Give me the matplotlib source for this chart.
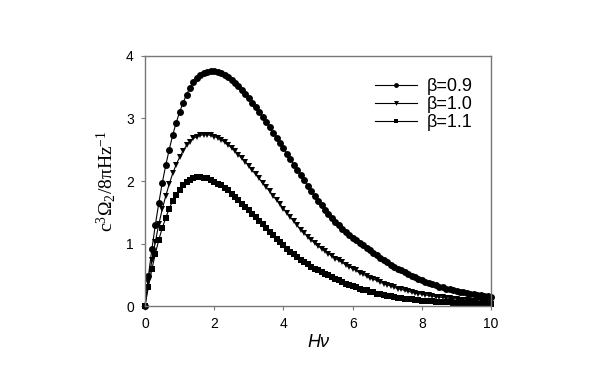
import numpy as np
import matplotlib
matplotlib.use("Agg")
import matplotlib.pyplot as plt

plt.rcParams['font.family'] = ['Liberation Sans', 'DejaVu Sans']
plt.rcParams['mathtext.fontset'] = 'custom'
plt.rcParams['mathtext.rm'] = 'Liberation Serif'
plt.rcParams['mathtext.it'] = 'Liberation Serif:italic'

# Hν grid, step 0.1 (one marker per point)
hv = np.linspace(0, 10, 101)

# values
beta09 = [0.00, 0.48, 0.91, 1.30, 1.65, 1.97, 2.25, 2.50, 2.73, 2.93,
          3.10, 3.25, 3.38, 3.49, 3.58, 3.65, 3.70, 3.73, 3.75, 3.76,
          3.76, 3.75, 3.73, 3.70, 3.66, 3.62, 3.57, 3.52, 3.46, 3.39,
          3.32, 3.25, 3.18, 3.10, 3.02, 2.94, 2.86, 2.77, 2.69, 2.60,
          2.52, 2.43, 2.35, 2.26, 2.18, 2.09, 2.01, 1.92, 1.84, 1.76,
          1.68, 1.61, 1.54, 1.47, 1.41, 1.35, 1.29, 1.24, 1.19, 1.14,
          1.09, 1.05, 1.01, 0.97, 0.93, 0.89, 0.85, 0.81, 0.77, 0.73,
          0.70, 0.66, 0.63, 0.60, 0.57, 0.54, 0.51, 0.48, 0.46, 0.43,
          0.41, 0.39, 0.37, 0.35, 0.33, 0.31, 0.30, 0.28, 0.27, 0.25,
          0.24, 0.23, 0.22, 0.21, 0.20, 0.19, 0.18, 0.17, 0.16, 0.16,
          0.15]
beta10 = [0.00, 0.39, 0.73, 1.03, 1.31, 1.55, 1.76, 1.95, 2.12, 2.26,
          2.38, 2.48, 2.57, 2.63, 2.68, 2.71, 2.73, 2.74, 2.74, 2.73,
          2.71, 2.69, 2.66, 2.62, 2.58, 2.53, 2.48, 2.42, 2.36, 2.31,
          2.24, 2.17, 2.11, 2.04, 1.97, 1.90, 1.84, 1.76, 1.70, 1.63,
          1.56, 1.49, 1.42, 1.36, 1.29, 1.22, 1.17, 1.11, 1.06, 1.01,
          0.96, 0.92, 0.88, 0.84, 0.80, 0.76, 0.73, 0.70, 0.66, 0.63,
          0.60, 0.57, 0.53, 0.51, 0.48, 0.45, 0.43, 0.41, 0.38, 0.36,
          0.34, 0.32, 0.30, 0.28, 0.27, 0.25, 0.24, 0.22, 0.21, 0.20,
          0.19, 0.18, 0.17, 0.16, 0.153, 0.145, 0.138, 0.131, 0.124, 0.117,
          0.111, 0.105, 0.10, 0.095, 0.09, 0.085, 0.08, 0.076, 0.072, 0.068,
          0.065]
beta11 = [0.00, 0.31, 0.59, 0.84, 1.06, 1.25, 1.41, 1.56, 1.68, 1.78,
          1.86, 1.93, 1.99, 2.02, 2.04, 2.06, 2.06, 2.05, 2.04, 2.02,
          1.99, 1.96, 1.93, 1.89, 1.85, 1.80, 1.75, 1.70, 1.64, 1.59,
          1.53, 1.48, 1.42, 1.36, 1.31, 1.25, 1.19, 1.13, 1.08, 1.02,
          0.97, 0.92, 0.87, 0.83, 0.78, 0.74, 0.70, 0.67, 0.63, 0.60,
          0.57, 0.55, 0.52, 0.49, 0.47, 0.44, 0.41, 0.39, 0.36, 0.34,
          0.32, 0.30, 0.28, 0.26, 0.25, 0.23, 0.22, 0.20, 0.19, 0.18,
          0.16, 0.155, 0.145, 0.135, 0.13, 0.12, 0.115, 0.11, 0.10, 0.096,
          0.09, 0.087, 0.082, 0.078, 0.074, 0.070, 0.066, 0.063, 0.060, 0.057,
          0.054, 0.051, 0.048, 0.046, 0.043, 0.041, 0.039, 0.037, 0.035, 0.033,
          0.031]

labels = ['β=0.9', 'β=1.0', 'β=1.1']
markers = ['o', 'v', 's']
xticks = [0, 2, 4, 6, 8, 10]
yticks = [0, 1, 2, 3, 4]

fig = plt.figure(figsize=(5.99, 3.88), dpi=100)
ax = fig.add_axes([0.242, 0.211, 0.578, 0.645])

for y, lab, m in zip([beta09, beta10, beta11], labels, markers):
    ax.plot(hv, y, color='black', lw=0.8, marker=m, markersize=5.0,
            markeredgewidth=0, label=lab, clip_on=False)

ax.set_xlim(0, 10)
ax.set_ylim(0, 4)
ax.set_xticks(xticks)
ax.set_yticks(yticks)
ax.tick_params(direction='out', length=3, width=0.8, color='#777777',
               labelsize=10, pad=5)
for s in ax.spines.values():
    s.set_color('#777777')
    s.set_linewidth(1.0)

ax.set_xlabel('Hν', fontsize=13, style='italic', labelpad=2)
ax.set_ylabel(r'c$^3$Ω$_2$/8πHz$^{-1}$', fontsize=14, family='Liberation Serif',
              labelpad=6)

leg = ax.legend(loc='upper left', bbox_to_anchor=(0.665, 0.91), frameon=False,
                fontsize=13, borderpad=0, borderaxespad=0, labelspacing=0.05,
                handlelength=2.3, handletextpad=0.55, markerscale=0.7)

fig.savefig('out.png', dpi=100)
